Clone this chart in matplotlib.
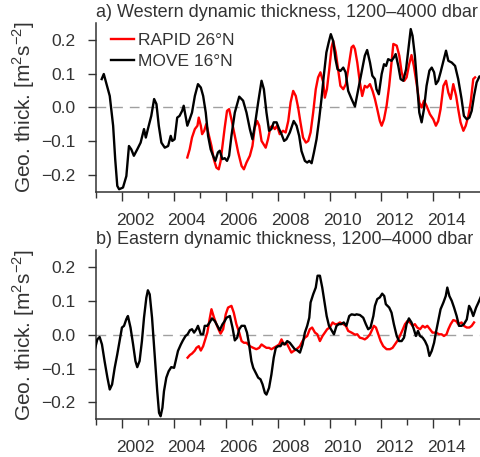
import matplotlib
matplotlib.use('Agg')
import matplotlib.pyplot as plt
from matplotlib.ticker import MultipleLocator
from matplotlib.transforms import ScaledTranslation

plt.rcParams['font.family'] = ['Liberation Sans', 'DejaVu Sans']
TXT = '#333333'

# ---- data ----
# a) western dynamic thickness, MOVE 16N
west_move_yr = [2001.22, 2001.30, 2001.53, 2001.66, 2001.74, 2001.82, 2001.89, 2002.04, 2002.17, 2002.27,
                2002.36, 2002.46, 2002.59, 2002.72, 2002.85, 2002.92, 2003.00, 2003.13, 2003.24, 2003.33,
                2003.42, 2003.52, 2003.65, 2003.78, 2003.88, 2003.94, 2004.03, 2004.13, 2004.22, 2004.32,
                2004.38, 2004.45, 2004.52, 2004.61, 2004.70, 2004.81, 2004.93, 2005.04, 2005.13, 2005.23,
                2005.32, 2005.42, 2005.51, 2005.60, 2005.70, 2005.77, 2005.87, 2005.96, 2006.05, 2006.13,
                2006.22, 2006.35, 2006.52, 2006.67, 2006.80, 2006.93, 2007.03, 2007.12, 2007.25, 2007.38,
                2007.47, 2007.57, 2007.67, 2007.76, 2007.85, 2007.96, 2008.06, 2008.15, 2008.25, 2008.34,
                2008.47, 2008.62, 2008.73, 2008.83, 2008.92, 2009.05, 2009.14, 2009.22, 2009.31, 2009.40,
                2009.50, 2009.60, 2009.69, 2009.78, 2009.88, 2009.97, 2010.05, 2010.14, 2010.23, 2010.31,
                2010.42, 2010.53, 2010.62, 2010.72, 2010.85, 2010.98, 2011.11, 2011.24, 2011.36, 2011.45,
                2011.56, 2011.65, 2011.75, 2011.81, 2011.90, 2012.01, 2012.10, 2012.18, 2012.26, 2012.39,
                2012.48, 2012.55, 2012.65, 2012.74, 2012.84, 2012.95, 2013.04, 2013.13, 2013.20, 2013.29,
                2013.38, 2013.46, 2013.55, 2013.64, 2013.74, 2013.85, 2013.94, 2014.03, 2014.10, 2014.19,
                2014.28, 2014.39, 2014.49, 2014.58, 2014.71, 2014.84, 2014.96, 2015.09, 2015.18, 2015.29,
                2015.39, 2015.48, 2015.57, 2015.67, 2015.78, 2015.85]
west_move = [0.084, 0.099, 0.034, -0.054, -0.153, -0.232, -0.242, -0.237, -0.203, -0.114,
             -0.124, -0.143, -0.124, -0.104, -0.064, -0.089, -0.064, -0.025, 0.025, 0.010,
             -0.054, -0.104, -0.119, -0.114, -0.084, -0.099, -0.094, -0.030, -0.025, -0.010,
             0.005, -0.025, -0.054, -0.035, -0.015, 0.034, 0.069, 0.059, 0.034, -0.015,
             -0.084, -0.124, -0.143, -0.158, -0.133, -0.128, -0.153, -0.150, -0.158, -0.143,
             -0.084, -0.015, 0.032, 0.020, -0.015, -0.064, -0.094, -0.054, 0.015, 0.079,
             0.054, -0.015, -0.069, -0.064, -0.044, -0.044, -0.064, -0.079, -0.099, -0.094,
             -0.074, -0.040, -0.054, -0.084, -0.129, -0.158, -0.163, -0.158, -0.165, -0.133,
             -0.094, -0.035, 0.025, 0.094, 0.163, 0.193, 0.217, 0.197, 0.143, 0.113,
             0.108, 0.118, 0.104, 0.049, 0.025, 0.003, 0.054, 0.104, 0.153, 0.170,
             0.133, 0.094, 0.084, 0.054, 0.039, 0.099, 0.128, 0.123, 0.143, 0.138,
             0.148, 0.158, 0.123, 0.084, 0.079, 0.113, 0.173, 0.232, 0.212, 0.153,
             0.064, -0.015, -0.044, -0.005, 0.064, 0.109, 0.118, 0.104, 0.069, 0.079,
             0.104, 0.138, 0.168, 0.138, 0.133, 0.123, 0.084, 0.025, -0.025, -0.035,
             -0.030, -0.010, 0.034, 0.074, 0.092, 0.090]

# a) western dynamic thickness, RAPID 26N
west_rapid_yr = [2004.52, 2004.61, 2004.70, 2004.81, 2004.91, 2004.96, 2005.04, 2005.09, 2005.17, 2005.25,
                 2005.34, 2005.45, 2005.54, 2005.64, 2005.73, 2005.80, 2005.88, 2005.96, 2006.05, 2006.13,
                 2006.22, 2006.35, 2006.48, 2006.61, 2006.70, 2006.80, 2006.93, 2007.03, 2007.12, 2007.21,
                 2007.29, 2007.38, 2007.46, 2007.54, 2007.63, 2007.72, 2007.80, 2007.89, 2007.98, 2008.08,
                 2008.21, 2008.31, 2008.41, 2008.50, 2008.60, 2008.70, 2008.79, 2008.88, 2008.98, 2009.09,
                 2009.18, 2009.27, 2009.37, 2009.47, 2009.56, 2009.65, 2009.76, 2009.82, 2009.90, 2009.99,
                 2010.08, 2010.14, 2010.24, 2010.33, 2010.42, 2010.53, 2010.63, 2010.72, 2010.85, 2010.92,
                 2010.98, 2011.07, 2011.17, 2011.26, 2011.36, 2011.45, 2011.56, 2011.66, 2011.75, 2011.84,
                 2011.94, 2012.01, 2012.10, 2012.20, 2012.30, 2012.39, 2012.46, 2012.59, 2012.69, 2012.78,
                 2012.88, 2012.97, 2013.07, 2013.16, 2013.25, 2013.36, 2013.46, 2013.55, 2013.64, 2013.74,
                 2013.87, 2014.00, 2014.10, 2014.19, 2014.28, 2014.39, 2014.49, 2014.58, 2014.67, 2014.77,
                 2014.88, 2014.96, 2015.05, 2015.16, 2015.25, 2015.35, 2015.44, 2015.54, 2015.61]
west_rapid = [-0.148, -0.124, -0.089, -0.064, -0.054, -0.030, -0.054, -0.079, -0.069, -0.049,
              -0.079, -0.114, -0.153, -0.178, -0.183, -0.160, -0.110, -0.060, -0.010, -0.005,
              -0.035, -0.084, -0.133, -0.173, -0.183, -0.163, -0.143, -0.114, -0.059, -0.040,
              -0.054, -0.099, -0.109, -0.119, -0.094, -0.059, -0.054, -0.064, -0.054, -0.079,
              -0.069, -0.074, -0.040, 0.015, 0.049, 0.034, 0.000, -0.044, -0.089, -0.104,
              -0.099, -0.074, -0.015, 0.054, 0.089, 0.104, 0.074, 0.029, 0.054, 0.113,
              0.178, 0.197, 0.163, 0.113, 0.064, 0.054, 0.069, 0.113, 0.178, 0.183,
              0.173, 0.133, 0.074, 0.034, 0.064, 0.059, 0.069, 0.049, 0.025, -0.005,
              -0.040, -0.054, -0.035, 0.005, 0.064, 0.133, 0.188, 0.183, 0.153, 0.104,
              0.079, 0.089, 0.128, 0.155, 0.123, 0.069, 0.015, 0.000, 0.020, 0.005,
              -0.020, -0.035, -0.054, -0.040, -0.005, 0.064, 0.079, 0.044, 0.025, 0.069,
              0.034, -0.005, -0.044, -0.069, -0.054, -0.025, 0.015, 0.084, 0.089]

# b) eastern dynamic thickness, MOVE 16N
east_move_yr = [2000.97, 2001.05, 2001.14, 2001.23, 2001.33, 2001.44, 2001.53, 2001.62, 2001.72, 2001.82,
                2001.91, 2002.00, 2002.08, 2002.17, 2002.23, 2002.33, 2002.43, 2002.52, 2002.59, 2002.68,
                2002.77, 2002.85, 2002.94, 2003.00, 2003.07, 2003.16, 2003.26, 2003.36, 2003.43, 2003.49,
                2003.56, 2003.62, 2003.71, 2003.80, 2003.90, 2004.01, 2004.07, 2004.16, 2004.27, 2004.35,
                2004.45, 2004.53, 2004.62, 2004.70, 2004.78, 2004.87, 2004.93, 2005.04, 2005.13, 2005.19,
                2005.29, 2005.38, 2005.47, 2005.58, 2005.68, 2005.77, 2005.87, 2005.96, 2006.03, 2006.16,
                2006.26, 2006.35, 2006.44, 2006.52, 2006.61, 2006.73, 2006.82, 2006.90, 2006.99, 2007.06,
                2007.16, 2007.25, 2007.34, 2007.42, 2007.51, 2007.57, 2007.67, 2007.76, 2007.85, 2007.93,
                2008.02, 2008.11, 2008.19, 2008.28, 2008.37, 2008.47, 2008.57, 2008.66, 2008.75, 2008.86,
                2008.96, 2009.05, 2009.14, 2009.22, 2009.27, 2009.37, 2009.47, 2009.54, 2009.63, 2009.72,
                2009.80, 2009.89, 2009.98, 2010.08, 2010.17, 2010.27, 2010.36, 2010.45, 2010.55, 2010.65,
                2010.76, 2010.85, 2010.98, 2011.04, 2011.17, 2011.30, 2011.40, 2011.49, 2011.58, 2011.69,
                2011.75, 2011.84, 2011.94, 2012.03, 2012.11, 2012.17, 2012.30, 2012.39, 2012.48, 2012.59,
                2012.68, 2012.78, 2012.87, 2012.97, 2013.06, 2013.16, 2013.25, 2013.33, 2013.41, 2013.49,
                2013.59, 2013.68, 2013.77, 2013.85, 2013.94, 2014.03, 2014.10, 2014.19, 2014.28, 2014.39,
                2014.48, 2014.54, 2014.62, 2014.71, 2014.80, 2014.90, 2014.99, 2015.09, 2015.18, 2015.29,
                2015.38, 2015.45, 2015.54, 2015.65, 2015.74, 2015.85]
east_move = [-0.039, -0.014, -0.007, -0.029, -0.078, -0.127, -0.162, -0.147, -0.098, -0.058,
             -0.019, 0.021, 0.026, 0.046, 0.055, 0.021, -0.029, -0.078, -0.096, -0.078,
             -0.019, 0.050, 0.109, 0.131, 0.119, 0.050, -0.058, -0.167, -0.231, -0.241,
             -0.216, -0.167, -0.127, -0.108, -0.096, -0.098, -0.078, -0.048, -0.029, -0.017,
             -0.004, 0.001, 0.013, 0.016, 0.006, 0.016, 0.026, 0.001, 0.001, 0.026,
             0.026, 0.036, 0.048, 0.040, 0.026, 0.013, 0.030, 0.040, 0.050, 0.055,
             0.021, -0.017, -0.009, 0.016, 0.026, 0.026, 0.006, -0.029, -0.078, -0.098,
             -0.113, -0.127, -0.132, -0.147, -0.172, -0.177, -0.157, -0.118, -0.068, -0.039,
             -0.034, -0.034, -0.024, -0.029, -0.019, -0.024, -0.034, -0.043, -0.046, -0.053,
             -0.029, 0.006, 0.026, 0.050, 0.095, 0.119, 0.139, 0.174, 0.174, 0.139,
             0.100, 0.055, 0.026, 0.013, 0.001, 0.026, 0.031, 0.031, 0.036, 0.026,
             0.055, 0.060, 0.058, 0.060, 0.058, 0.050, 0.031, 0.016, 0.021, 0.055,
             0.085, 0.105, 0.110, 0.121, 0.114, 0.090, 0.080, 0.065, 0.031, -0.004,
             -0.019, -0.019, -0.009, 0.031, 0.048, 0.036, 0.016, -0.004, 0.011, -0.004,
             -0.009, -0.019, -0.034, -0.063, -0.048, -0.024, 0.006, 0.040, 0.075, 0.095,
             0.114, 0.139, 0.114, 0.100, 0.080, 0.055, 0.026, 0.026, 0.031, 0.045,
             0.085, 0.075, 0.055, 0.080, 0.095, 0.115]

# b) eastern dynamic thickness, RAPID 26N
east_rapid_yr = [2004.53, 2004.62, 2004.70, 2004.81, 2004.87, 2004.96, 2005.04, 2005.13, 2005.21, 2005.29,
                 2005.38, 2005.45, 2005.55, 2005.64, 2005.72, 2005.80, 2005.90, 2006.00, 2006.09, 2006.22,
                 2006.31, 2006.41, 2006.52, 2006.61, 2006.70, 2006.80, 2006.93, 2007.06, 2007.18, 2007.29,
                 2007.38, 2007.47, 2007.57, 2007.67, 2007.76, 2007.85, 2007.96, 2008.06, 2008.15, 2008.24,
                 2008.34, 2008.44, 2008.53, 2008.62, 2008.73, 2008.86, 2008.96, 2009.05, 2009.14, 2009.24,
                 2009.33, 2009.44, 2009.53, 2009.63, 2009.73, 2009.82, 2009.91, 2010.01, 2010.12, 2010.21,
                 2010.30, 2010.40, 2010.53, 2010.63, 2010.72, 2010.85, 2010.98, 2011.07, 2011.17, 2011.27,
                 2011.36, 2011.45, 2011.56, 2011.65, 2011.71, 2011.79, 2011.88, 2011.97, 2012.07, 2012.20,
                 2012.33, 2012.43, 2012.52, 2012.61, 2012.71, 2012.80, 2012.91, 2013.00, 2013.10, 2013.20,
                 2013.29, 2013.38, 2013.49, 2013.59, 2013.68, 2013.77, 2013.87, 2013.97, 2014.10, 2014.23,
                 2014.32, 2014.41, 2014.51, 2014.58, 2014.67, 2014.77, 2014.88, 2014.96, 2015.09, 2015.18,
                 2015.29, 2015.39, 2015.48, 2015.57]
east_rapid = [-0.068, -0.060, -0.056, -0.047, -0.039, -0.034, -0.047, -0.034, -0.014, 0.006,
              0.046, 0.075, 0.050, 0.031, 0.016, 0.003, 0.016, 0.060, 0.080, 0.085,
              0.065, 0.031, 0.006, -0.019, -0.024, -0.024, -0.034, -0.039, -0.043, -0.039,
              -0.029, -0.034, -0.039, -0.039, -0.043, -0.039, -0.034, -0.029, -0.014, -0.029,
              -0.024, -0.039, -0.053, -0.048, -0.043, -0.034, -0.019, -0.009, -0.004, 0.016,
              0.021, 0.006, 0.001, -0.019, -0.004, 0.006, 0.016, 0.021, 0.036, 0.031,
              0.031, 0.036, 0.031, 0.026, 0.011, 0.006, 0.000, 0.001, -0.009, -0.011,
              -0.014, -0.009, 0.001, 0.016, 0.026, 0.021, 0.001, -0.019, -0.034, -0.043,
              -0.043, -0.039, -0.029, -0.019, -0.004, 0.011, 0.031, 0.040, 0.036, 0.026,
              0.031, 0.021, 0.016, 0.026, 0.021, 0.026, 0.016, 0.006, 0.006, 0.001,
              0.001, -0.004, 0.001, 0.016, 0.031, 0.043, 0.040, 0.031, 0.036, 0.026,
              0.021, 0.021, 0.026, 0.036]

yticks = [-0.2, -0.1, 0.0, 0.1, 0.2]
ytick_labels = ['\u22120.2', '\u22120.1', '0.0', '0.1', '0.2']
titles = ['a) Western dynamic thickness, 1200\u20134000 dbar',
          'b) Eastern dynamic thickness, 1200\u20134000 dbar']
ylabel = 'Geo. thick. [m$^\\mathregular{2}$s$^\\mathregular{\u22122}$]'

fig = plt.figure(figsize=(4.8, 4.57), dpi=100)
ax1 = fig.add_axes([0.2, 0.580, 0.8, 0.3697])
ax2 = fig.add_axes([0.2, 0.0825, 0.8, 0.3705])

panels = [(ax1, west_rapid_yr, west_rapid, west_move_yr, west_move),
          (ax2, east_rapid_yr, east_rapid, east_move_yr, east_move)]

# year labels sit in the middle of the year, ticks mark the year start
half_year = ScaledTranslation(0.5 * 0.8 * 4.8 / 14.8, 0, fig.dpi_scale_trans)

for i, (ax, ryr, rv, myr, mv) in enumerate(panels):
    ax.axhline(0, color='#a0a0a0', lw=1.0, ls=(0, (7, 5)), zorder=1)
    ax.plot(ryr, rv, color='#ff0000', lw=1.7, label='RAPID 26\u00b0N', zorder=2)
    ax.plot(myr, mv, color='black', lw=1.7, label='MOVE 16\u00b0N', zorder=3)

    ax.set_xlim(2001.0, 2015.8)
    ax.set_ylim(-0.25, 0.25)
    ax.set_yticks(yticks)
    ax.set_yticklabels(ytick_labels)
    ax.xaxis.set_major_locator(MultipleLocator(2))
    ax.xaxis.set_minor_locator(MultipleLocator(1))

    for s in ['top', 'right']:
        ax.spines[s].set_visible(False)
    for s in ['left', 'bottom']:
        ax.spines[s].set_color(TXT)
        ax.spines[s].set_linewidth(1.1)
    ax.tick_params(axis='both', which='major', direction='out', color=TXT, width=1.0,
                   labelcolor=TXT, labelsize=12.5)
    ax.tick_params(axis='y', which='major', length=5.5, pad=9)
    ax.tick_params(axis='x', which='major', length=6.5, pad=8.5)
    ax.tick_params(axis='x', which='minor', length=4, width=1.0, color=TXT)
    for lab in ax.get_xticklabels():
        lab.set_transform(lab.get_transform() + half_year)

    ax.set_title(titles[i], loc='left', fontsize=13, color=TXT, pad=4)
    pos = ax.get_position()
    fig.text(0.05, (pos.y0 + pos.y1) / 2, ylabel, rotation=90, ha='center', va='center',
             fontsize=15, color=TXT)

ax1.legend(loc='upper left', bbox_to_anchor=(0.02, 0.98), frameon=False, fontsize=12.5,
           handlelength=1.35, handletextpad=0.25, labelspacing=0.3, borderaxespad=0,
           labelcolor=TXT)

fig.savefig('out.png', dpi=100)
